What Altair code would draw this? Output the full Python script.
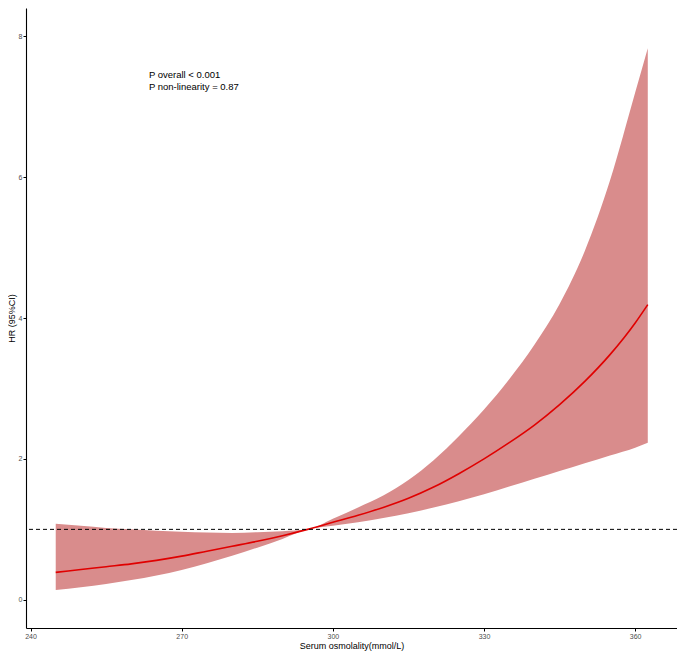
import altair as alt
import pandas as pd

# Serum osmolality (mmol/L) grid and hazard ratio estimates
osm = [245, 250, 255, 260, 265, 270, 275, 280, 285, 290, 295, 300, 305, 310,
       315, 320, 325, 330, 335, 340, 345, 350, 355, 360, 362.5]
hr = [0.39, 0.43, 0.47, 0.51, 0.56, 0.62, 0.69, 0.76, 0.83, 0.91, 1.00, 1.10,
      1.20, 1.31, 1.44, 1.60, 1.79, 2.00, 2.23, 2.48, 2.77, 3.10, 3.48, 3.93, 4.19]
lower = [0.14, 0.18, 0.225, 0.28, 0.345, 0.425, 0.52, 0.625, 0.74, 0.865, 1.00, 1.05,
         1.10, 1.16, 1.23, 1.31, 1.40, 1.50, 1.61, 1.72, 1.83, 1.94, 2.05, 2.16, 2.23]
upper = [1.08, 1.05, 1.02, 1.00, 0.98, 0.965, 0.955, 0.95, 0.96, 0.975, 1.00, 1.15,
         1.31, 1.48, 1.70, 1.98, 2.32, 2.70, 3.13, 3.62, 4.20, 4.95, 5.95, 7.20, 7.83]
ref_hr = [1.0]
annotation = ["P overall < 0.001", "P non-linearity = 0.87"]
x_ticks = [240, 270, 300, 330, 360]
y_ticks = [0, 2, 4, 6, 8]

df = pd.DataFrame({"osm": osm, "hr": hr, "lower": lower, "upper": upper})

xscale = alt.Scale(domain=[239.1, 368.3], nice=False, zero=False)
yscale = alt.Scale(domain=[-0.4, 8.4], nice=False, zero=False)
xaxis = alt.Axis(values=x_ticks, title="Serum osmolality(mmol/L)", format="d")
yaxis = alt.Axis(values=y_ticks, title="HR (95%CI)", format="d")

base = alt.Chart(df)

band = base.mark_area(color="#D98C8C", opacity=1, interpolate="monotone").encode(
    x=alt.X("osm:Q", scale=xscale, axis=xaxis),
    y=alt.Y("lower:Q", scale=yscale, axis=yaxis),
    y2="upper:Q",
)

line = base.mark_line(color="#E00000", strokeWidth=1.6, interpolate="monotone").encode(
    x=alt.X("osm:Q", scale=xscale),
    y=alt.Y("hr:Q", scale=yscale),
)

rule = alt.Chart(pd.DataFrame({"ref": ref_hr})).mark_rule(
    color="black", strokeDash=[4, 3], strokeWidth=1
).encode(y=alt.Y("ref:Q", scale=yscale))

text = alt.Chart(pd.DataFrame({"t": ["\n".join(annotation)]})).mark_text(
    align="left", baseline="middle", fontSize=9.5, lineHeight=12.5,
    lineBreak="\n", font="Liberation Sans", color="black"
).encode(
    x=alt.datum(263.5, scale=xscale),
    y=alt.datum(7.45, scale=yscale),
    text="t:N",
)

chart = alt.layer(band, line, rule, text).properties(
    width=651,
    height=620,
    autosize=alt.AutoSizeParams(type="none"),
    padding={"left": 18, "top": 0, "right": 0, "bottom": 23},
).configure_view(stroke=None).configure_axis(
    grid=False,
    domainColor="black",
    domainWidth=1.1,
    tickColor="black",
    tickSize=3,
    labelFontSize=7,
    labelColor="#4D4D4D",
    labelFont="Liberation Sans",
    labelPadding=1,
    titleFont="Liberation Sans",
    titleFontSize=9,
    titleFontWeight="normal",
    titleColor="black",
    titlePadding=2,
)

chart.save("out.html", embed_options={"renderer": "svg", "actions": False})
